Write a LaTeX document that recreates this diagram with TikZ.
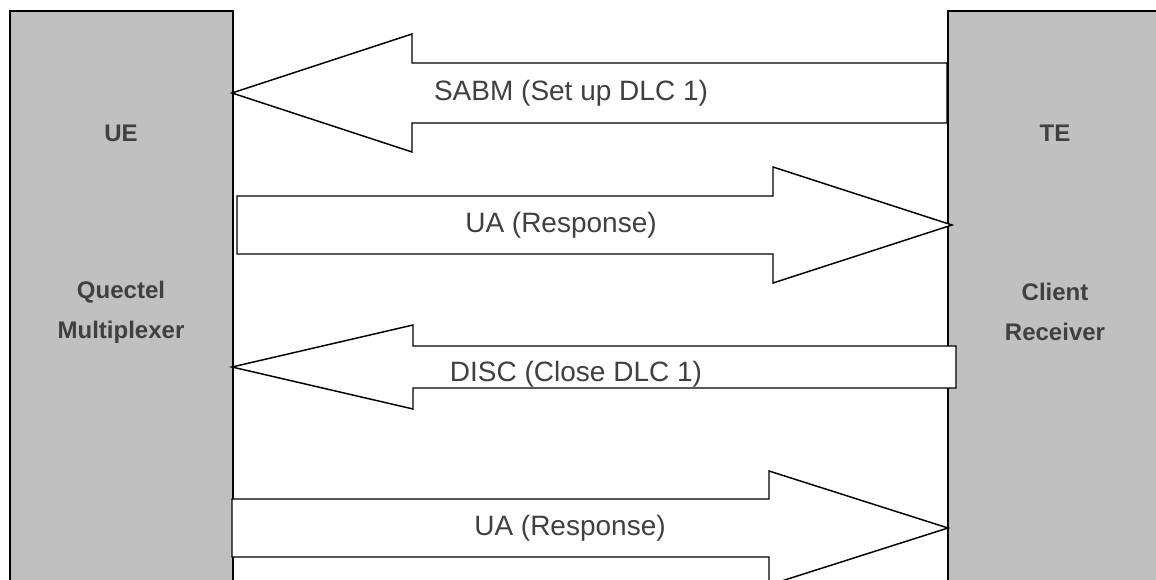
\documentclass[tikz,border=0pt]{standalone}
\usepackage{fontspec}
\setmainfont{Liberation Sans}
\definecolor{boxgray}{HTML}{C0C0C0}
\definecolor{txtgray}{HTML}{404040}
\begin{document}
\begin{tikzpicture}[x=0.75pt,y=-0.75pt,
  entity/.style={draw=black,fill=boxgray,line width=1.5pt,inner sep=0pt,anchor=north west},
  side/.style={text=txtgray,font=\bfseries\fontsize{18}{30}\selectfont,align=center},
  msg/.style={draw=black,fill=white,line width=1.1pt,line join=miter},
  msglbl/.style={text=txtgray,font=\fontsize{21}{24}\selectfont,inner sep=0pt}]
\useasboundingbox (0,0) rectangle (1156,580);
% entities
\node[entity,minimum width=167.25pt,minimum height=450pt] (ue) at (9,10) {};
\node[entity,minimum width=167.25pt,minimum height=450pt] (te) at (947,10) {};
\node[side] (uelbl) at (121,133) {UE};
\node[side] (uename) at (121,312) {Quectel\\Multiplexer};
\node[side] (telbl) at (1055,133) {TE};
\node[side] (tename) at (1055,312) {Client\\Receiver};
% message 1: SABM (TE -> UE)
\coordinate (m1tip) at (232,93);
\draw[msg] (m1tip) -- (412,34) -- (412,63) -- (947,63) -- (947,123) -- (412,123) -- (412,152) -- cycle;
\node[msglbl] (m1) at (571,93) {SABM (Set up DLC 1)};
% message 2: UA (UE -> TE)
\coordinate (m2tip) at (952,225);
\draw[msg] (m2tip) -- (773,167) -- (773,196) -- (237,196) -- (237,254) -- (773,254) -- (773,283) -- cycle;
\node[msglbl] (m2) at (561,225) {UA (Response)};
% message 3: DISC (TE -> UE)
\coordinate (m3tip) at (232,367);
\draw[msg] (m3tip) -- (413,325) -- (413,346) -- (956,346) -- (956,388) -- (413,388) -- (413,409) -- cycle;
\node[msglbl] (m3) at (576,374) {DISC (Close DLC 1)};
% message 4: UA (UE -> TE)
\coordinate (m4tip) at (948,528);
\draw[msg] (m4tip) -- (769,471) -- (769,499) -- (232,499) -- (232,557) -- (769,557) -- (769,585) -- cycle;
\node[msglbl] (m4) at (570,528) {UA (Response)};
\end{tikzpicture}
\end{document}
